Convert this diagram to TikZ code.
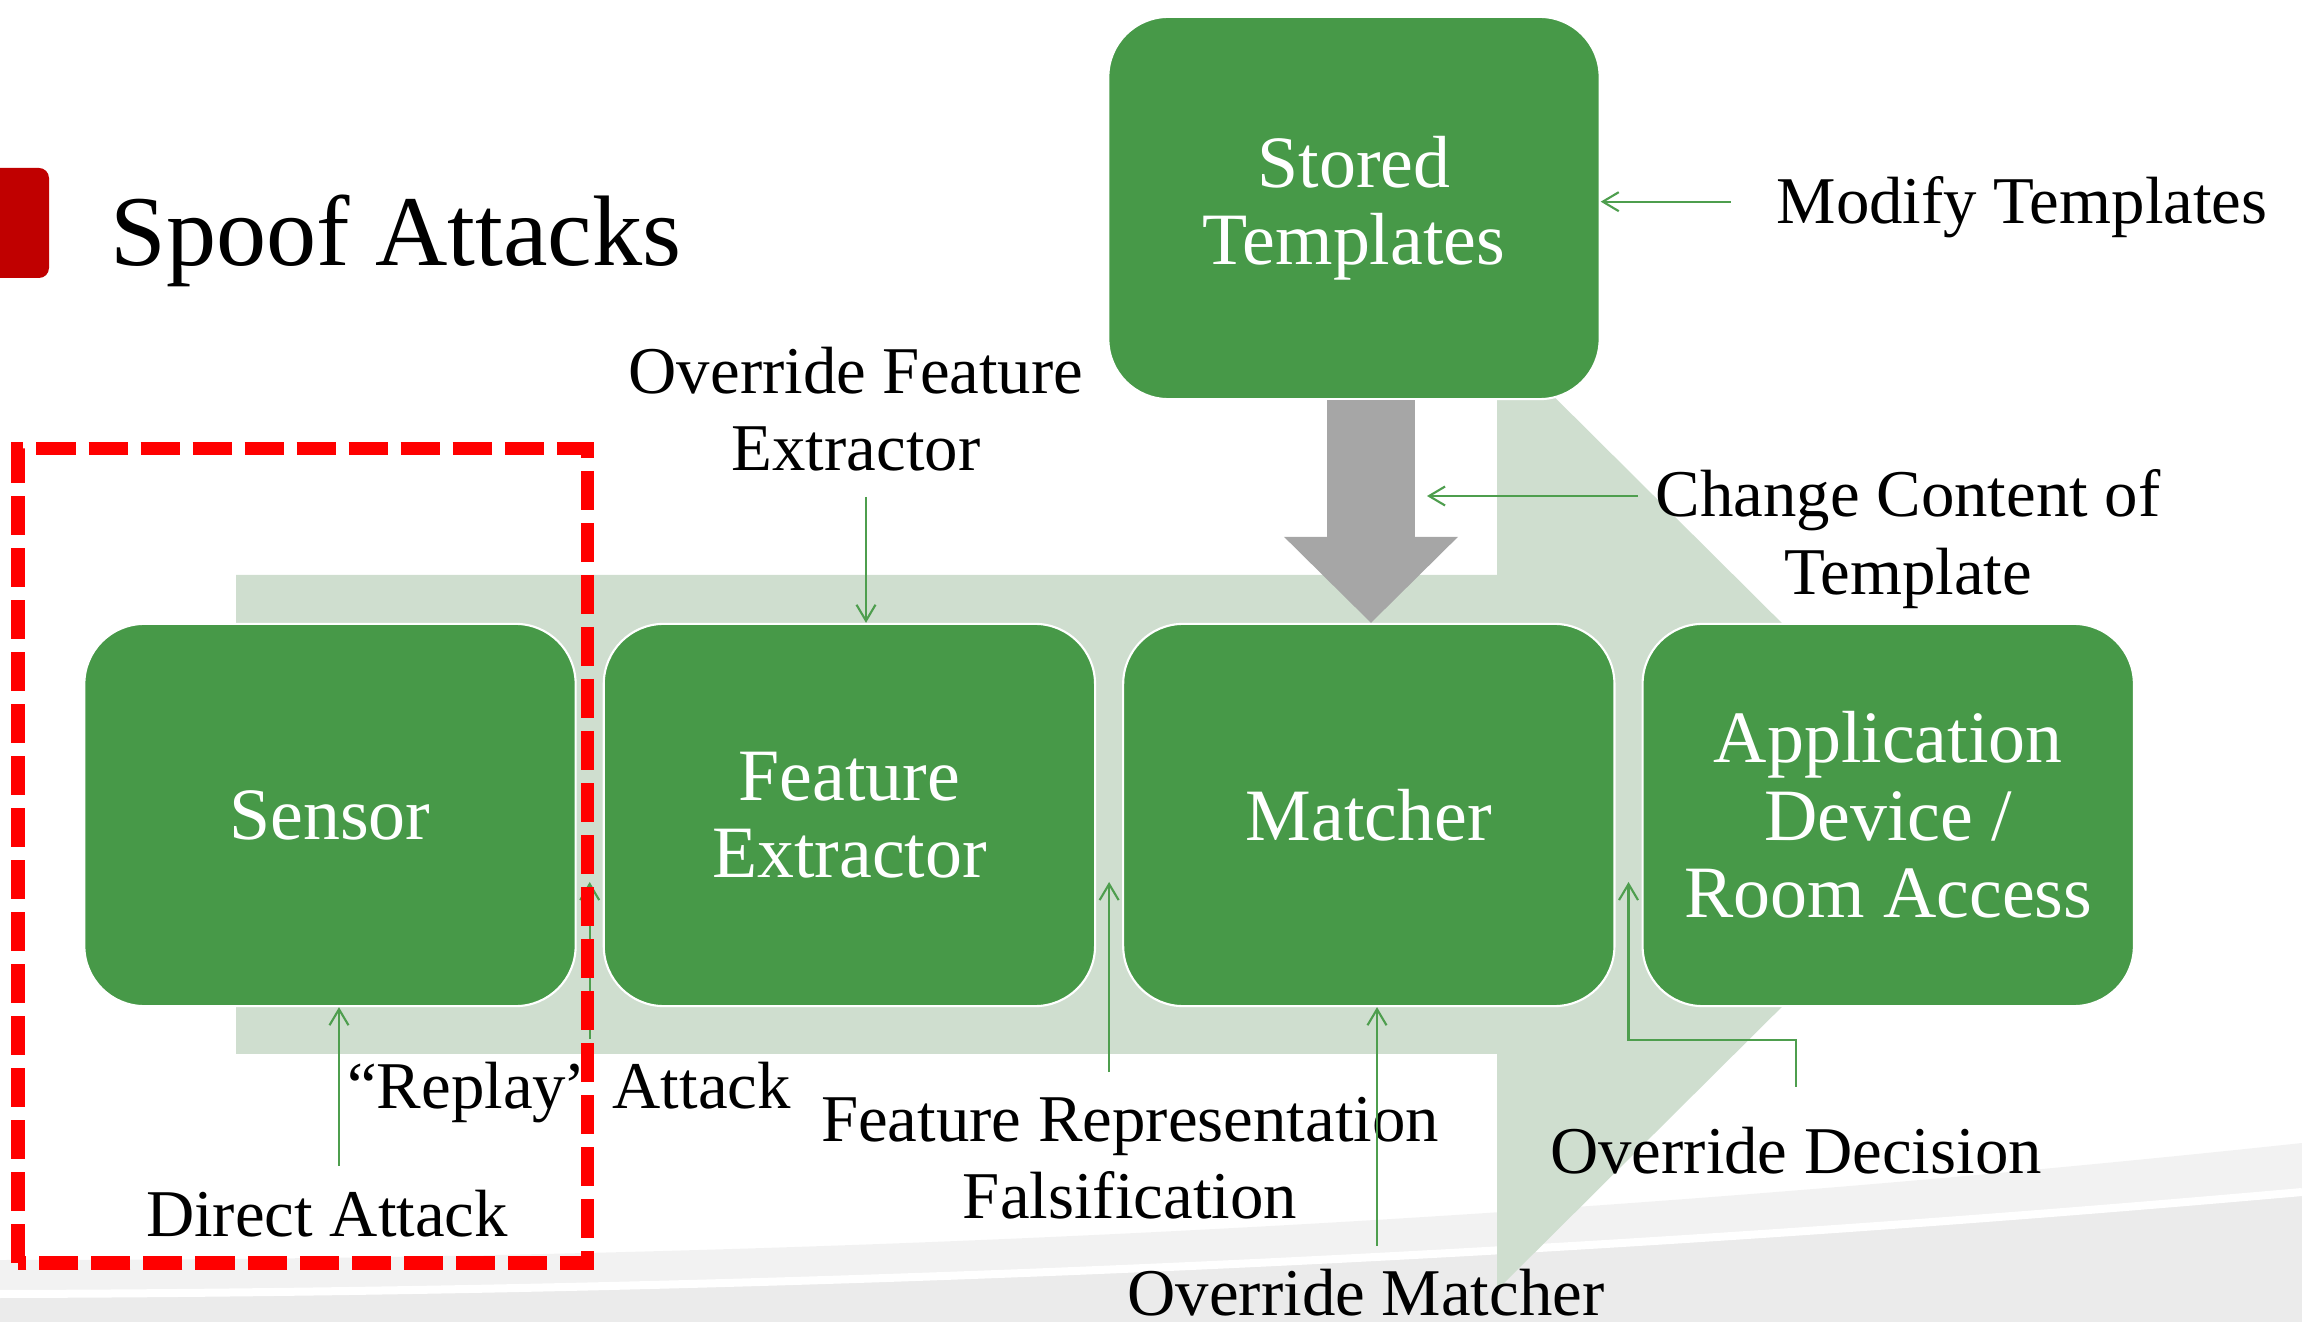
\documentclass[tikz,border=0pt]{standalone}
\usepackage{fontspec}
\setmainfont{Liberation Serif}
\definecolor{boxgreen}{RGB}{71,153,72}
\definecolor{flowgreen}{RGB}{207,222,207}
\definecolor{hitgreen}{RGB}{78,158,78}
\definecolor{dropgray}{RGB}{166,166,166}
\definecolor{tabred}{RGB}{192,0,0}
\definecolor{swooshlight}{RGB}{242,242,242}
\definecolor{swooshdark}{RGB}{235,235,235}
\usetikzlibrary{arrows.meta, positioning, calc}

\begin{document}
\begin{tikzpicture}[x=0.01cm, y=-0.01cm,
  stage/.style={draw=white, line width=0.6pt, fill=boxgreen, rounded corners=0.6cm, minimum width=4.91cm, minimum height=3.82cm, text=white, font=\fontsize{21}{22}\selectfont, align=center},
  attack/.style={font=\fontsize{19}{22}\selectfont, align=center, inner sep=0pt},
  hit/.style={draw=hitgreen, line width=0.6pt, -{Straight Barb[length=1.6mm, width=1.9mm]}},
  drop/.style={draw=dropgray, line width=0.87cm, -{Triangle[length=8.6mm, width=17.4mm, line width=0pt]}}]
\useasboundingbox (0,0) rectangle (2302,1322);

\fill[swooshlight] (0,1260) .. controls (767,1260) and (1535,1225) .. (2302,1143) -- (2302,1322) -- (0,1322) -- cycle;
\fill[swooshdark] (0,1294) .. controls (767,1292) and (1535,1260) .. (2302,1192) -- (2302,1322) -- (0,1322) -- cycle;
\draw[white, line width=0.08cm] (0,1294) .. controls (767,1292) and (1535,1260) .. (2302,1192);

\fill[flowgreen] (236,575) -- (1497,575) -- (1497,340) -- (1975,815) -- (1497,1290) -- (1497,1054) -- (236,1054) -- cycle;

\fill[tabred, rounded corners=0.1cm] (-30,168) rectangle (49,278);
\node[anchor=base west, inner sep=0pt, font=\fontsize{28.5}{30}\selectfont] (title) at (110,266) {Spoof Attacks};

\node[stage] (sensor) at (330,815) {Sensor};
\node[stage, right=0.26cm of sensor] (feature) {Feature\\Extractor};
\node[stage, right=0.26cm of feature] (matcher) {Matcher};
\node[stage, right=0.26cm of matcher] (application) {Application\\Device /\\Room Access};
\node[stage] (stored) at (1354,208) {Stored\\Templates};

\coordinate (axis) at (1371,0);
\draw[drop] (stored.south -| axis) -- (matcher.north -| axis);

\node[attack, anchor=base] (modify) at (2022,224) {Modify Templates};
\node[attack] (overfeat) at (856,409) {Override Feature\\Extractor};
\node[attack] (change) at (1908,539) {Change Content of\\Template};
\node[attack, anchor=base] (direct) at (327,1236) {Direct Attack};
\node[attack, anchor=base] (replay) at (569,1109) {“Replay” Attack};
\node[attack] (featrep) at (1130,1158) {Feature Representation\\Falsification};
\node[attack, anchor=base] (overdec) at (1796,1173) {Override Decision};
\node[attack, anchor=base] (overmatch) at (1366,1315) {Override Matcher};

\coordinate (gap1) at ($(sensor.east)!.5!(feature.west)+(0,67)$);
\coordinate (gap2) at ($(feature.east)!.5!(matcher.west)+(0,67)$);
\coordinate (gap3) at ($(matcher.east)!.5!(application.west)+(0,67)$);
\coordinate (modify tail) at ($(modify.west)+(-45,-6)$);
\coordinate (overfeat tail) at ($(overfeat.south)+(10,25)$);
\coordinate (change tail) at ($(change.west)+(-17,-43)$);
\coordinate (direct tail) at ($(direct.north)+(12,-23)$);
\coordinate (overmatch tail) at ($(overmatch.north)+(11,-22)$);

\draw[hit] (modify tail) -- (modify tail -| stored.east);
\draw[hit] (overfeat tail) -- (overfeat tail |- feature.north);
\draw[hit] (change tail) -- ($(axis |- change tail)+(56,0)$);
\draw[hit] (direct tail) -- (direct tail |- sensor.south);
\draw[hit] ($(gap1 |- replay.north)+(0,-23)$) -- (gap1);
\draw[hit] ($(gap2 |- featrep.north)+(0,-24)$) -- (gap2);
\draw[hit] (overmatch tail) -- (overmatch tail |- matcher.south);
\draw[hit] ($(overdec.north)+(0,-39)$) -- ++(0,-47) -| (gap3);

\draw[red, line width=0.13cm, dash pattern=on 0.39cm off 0.13cm] (18,1263) rectangle (587,449);
\end{tikzpicture}
\end{document}
